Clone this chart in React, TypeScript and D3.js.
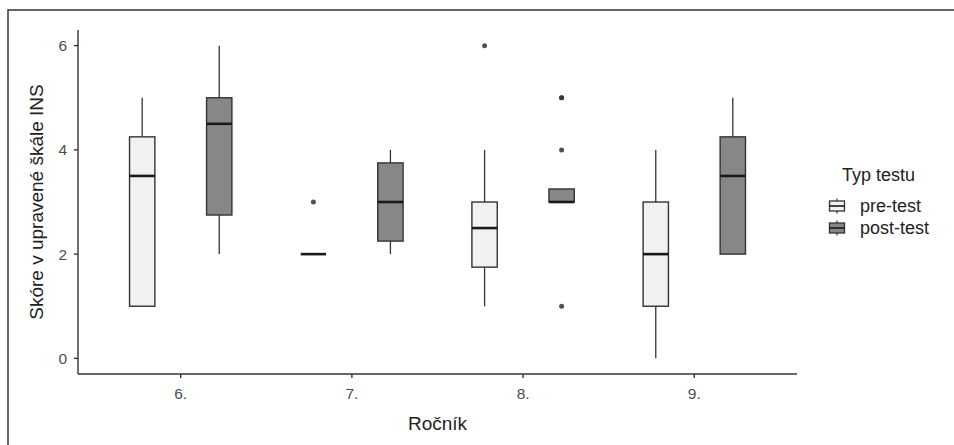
import React from "react";
import * as d3 from "d3";

const grades = ["6.", "7.", "8.", "9."];
const tests = ["pre-test", "post-test"];

// [min, q1, median, q3, max]
const preStats = [
  [1, 1, 3.5, 4.25, 5],
  [2, 2, 2, 2, 2],
  [1, 1.75, 2.5, 3, 4],
  [0, 1, 2, 3, 4],
];
const postStats = [
  [2, 2.75, 4.5, 5, 6],
  [2, 2.25, 3, 3.75, 4],
  [3, 3, 3, 3.25, 3.25],
  [2, 2, 3.5, 4.25, 5],
];
const preOutliers = [[], [3], [6], []];
const postOutliers = [[], [], [5, 5, 4, 1], []];

const yTicks = [0, 2, 4, 6];
const fills = ["#f0f1f2", "#878787"];

const W = 954;
const H = 445;
const font = "'Liberation Sans', Arial, sans-serif";

export default function App() {
  const left = 78;
  const right = 797;
  const top = 30;
  const bottom = 374;

  const x = d3.scaleBand().domain(grades).range([left, right]).paddingOuter(0.1).paddingInner(0);
  const step = x.bandwidth();
  const cx = (g: string) => (x(g) as number) + step / 2;
  const y = d3.scaleLinear().domain([-0.3, 6.3]).range([bottom, top]);

  const dodge = step * 0.225;
  const boxW = step * 0.148;

  const series = [
    { name: tests[0], stats: preStats, outs: preOutliers, off: -dodge, fill: fills[0] },
    { name: tests[1], stats: postStats, outs: postOutliers, off: dodge, fill: fills[1] },
  ];

  return (
    <svg
      width={W}
      height={H}
      style={{ position: "absolute", left: 0, top: 0, background: "#fff" }}
      fontFamily={font}
    >
      <rect x={8} y={10} width={W} height={H} fill="none" stroke="#333" strokeWidth={1.5} />

      {series.map((s) =>
        grades.map((g, i) => {
          const [mn, q1, md, q3, mx] = s.stats[i];
          const c = cx(g) + s.off;
          return (
            <g key={s.name + g}>
              <line x1={c} x2={c} y1={y(mx)} y2={y(q3)} stroke="#333" strokeWidth={1.3} />
              <line x1={c} x2={c} y1={y(q1)} y2={y(mn)} stroke="#333" strokeWidth={1.3} />
              <rect
                x={c - boxW / 2}
                y={y(q3)}
                width={boxW}
                height={Math.max(0, y(q1) - y(q3))}
                fill={s.fill}
                stroke="#333"
                strokeWidth={1.4}
              />
              <line x1={c - boxW / 2} x2={c + boxW / 2} y1={y(md)} y2={y(md)} stroke="#1a1a1a" strokeWidth={2.6} />
              {s.outs[i].map((o, j) => (
                <circle key={j} cx={c} cy={y(o)} r={2.5} fill="#333" fillOpacity={0.85} />
              ))}
            </g>
          );
        })
      )}

      {/* y axis */}
      <line x1={left} x2={left} y1={top} y2={bottom} stroke="#333" strokeWidth={1.4} />
      {yTicks.map((t) => (
        <g key={t}>
          <line x1={left - 4} x2={left} y1={y(t)} y2={y(t)} stroke="#333" strokeWidth={1.4} />
          <text x={left - 11} y={y(t)} dy="0.36em" textAnchor="end" fontSize={15.5} fill="#4d4d4d">
            {t}
          </text>
        </g>
      ))}
      <text
        transform={`translate(43,${(top + bottom) / 2}) rotate(-90)`}
        textAnchor="middle"
        fontSize={19}
        fill="#222"
      >
        Skóre v upravené škále INS
      </text>

      {/* x axis */}
      <line x1={left} x2={right} y1={bottom} y2={bottom} stroke="#333" strokeWidth={1.4} />
      {grades.map((g) => (
        <g key={g}>
          <line x1={cx(g)} x2={cx(g)} y1={bottom} y2={bottom + 4} stroke="#333" strokeWidth={1.4} />
          <text x={cx(g)} y={bottom + 25} textAnchor="middle" fontSize={15.5} fill="#4d4d4d">
            {g}
          </text>
        </g>
      ))}
      <text x={(left + right) / 2} y={430} textAnchor="middle" fontSize={19} fill="#222">
        Ročník
      </text>

      {/* legend */}
      <text x={842} y={181} fontSize={18} fill="#222">
        Typ testu
      </text>
      {series.map((s, i) => {
        const ky = 206 + i * 22;
        const kx = 837;
        return (
          <g key={s.name}>
            <line x1={kx} x2={kx} y1={ky - 7.5} y2={ky + 7.5} stroke="#333" strokeWidth={1.2} />
            <rect x={kx - 7.5} y={ky - 5} width={15} height={10} fill={s.fill} stroke="#333" strokeWidth={1.3} />
            <line x1={kx - 7.5} x2={kx + 7.5} y1={ky} y2={ky} stroke="#1a1a1a" strokeWidth={1.6} />
            <text x={860} y={ky} dy="0.36em" fontSize={18} fill="#222">
              {s.name}
            </text>
          </g>
        );
      })}
    </svg>
  );
}
